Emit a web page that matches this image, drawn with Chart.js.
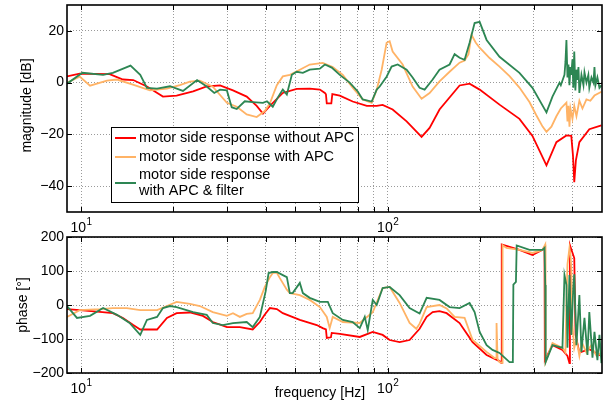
<!DOCTYPE html>
<html>
<head>
<meta charset="utf-8">
<script src="https://cdn.jsdelivr.net/npm/chart.js@4.4.0/dist/chart.umd.min.js"></script>
<style>
  html, body { margin: 0; padding: 0; background: #fff; }
  #wrap { position: relative; width: 606px; height: 403px; overflow: hidden; }
  canvas { position: absolute; left: 0; }
  #magCanvas { top: 0; }
  #phaseCanvas { top: 217px; }
</style>
</head>
<body>
<div id="wrap">
  <canvas id="magCanvas" width="606" height="237"></canvas>
  <canvas id="phaseCanvas" width="606" height="186"></canvas>
</div>
<script>
// frequency grid (Hz) and tick labels
const freqGrid = [10, 20, 30, 40, 50, 60, 70, 80, 90, 100, 200, 300, 400];
const freqLabels = [[10, '1'], [100, '2']];
const magTicks = [-40, -20, 0, 20];
const phaseTicks = [-200, -100, 0, 100, 200];

const seriesNames = ['motor side response without APC', 'motor side response with APC', 'motor side response|with APC & filter'];

// magnitude [dB], [frequency Hz, value]
const magRed = [[9.0, 2.4], [9.9, 3.5], [12.4, 3.3], [13.7, 1.2], [14.8, 1.0], [16.4, -1.5], [18.5, -5.4], [20.5, -5.0], [23.2, -3.4],
  [25.7, -1.5], [28.4, -1.1], [31.3, -3.0], [34.7, -5.4], [37.4, -9.0], [39.2, -12.0], [41.3, -9.0], [45.5, -4.0], [50.5, -2.4],
  [55.7, -2.3], [60.1, -2.7], [62.4, -4.0], [62.9, -4.5], [63.3, -8.0], [65.5, -8.0], [66.0, -4.4], [69.8, -5.0], [76.9, -7.3],
  [85.5, -9.0], [92.1, -9.0], [96.3, -8.6], [103.8, -10.4], [115.3, -15.0], [129, -21.0], [137, -17.5], [147.6, -10.4],
  [171.6, -1.1], [185, -0.4], [199.5, -2.7], [231.6, -8.5], [269, -14.0], [296.6, -20.6], [329.5, -32.0], [355, -23.0],
  [382.8, -20.4], [397, -20.6], [402, -28.0], [406, -38.5], [411, -30.0], [421.9, -23.0], [454.6, -18.0], [497.8, -16.5]];

const magOrange = [[9.0, 0], [9.9, 2.3], [10.7, -1.2], [12.15, 0.8], [13.1, 1.2], [14.76, -0.8], [16.78, -3], [19.06, -2.3], [21.0, -1],
  [22.65, 0.4], [24.4, 0.8], [26.9, -1.6], [29.9, -7.8], [32.2, -9.3], [34.7, -12.3], [37.4, -13.3], [39.75, -11], [41.3, -8],
  [43.5, -1], [45.5, 2.4], [48, 3], [51.7, 5], [55.7, 7], [61.4, 7.6], [66.2, 6], [71.4, 3], [76.9, -2], [82.9, -6.5], [88.7, -7.8],
  [92.1, -2.7], [95.6, 5], [99.2, 15.4], [101.5, 16], [103.8, 12], [111.9, 7], [120.6, -1.5], [129, -6.2], [137, -4], [147.6, 0.5],
  [159.2, 4.2], [171.6, 7.7], [178.2, 8.5], [183.5, 11], [187.7, 18.5], [193.6, 15.5], [199.5, 13.5], [215, 9.5], [231.6, 6.2],
  [249.7, 2.5], [269, -1.9], [290, -7.5], [305, -12.5], [320, -17], [329.5, -19], [342, -17], [355, -13], [367, -10], [382.8, -7.7],
  [385.8, -15], [388.7, -9], [391.6, -17], [394.5, -10], [400.5, -14], [406, -9], [412.7, -13], [421.9, -7], [431.7, -10],
  [444.9, -6.5], [458, -7], [472.5, -5], [497.8, -3.5]];

const magGreen = [[9.0, -0.4], [10.1, 3.8], [11.8, 3], [12.7, 3.8], [14.5, 6.6], [15.6, 3], [16.4, -2], [17.7, -2.3], [19.5, -1.4],
  [21.5, -3.2], [23.9, 1], [25.7, -1.5], [27.2, -4], [28.4, -2.7], [29.9, -3], [31.0, -9.5], [32.2, -10.2], [34.2, -7.2], [36.3, -7.5],
  [39.2, -7.8], [40.4, -7.2], [42.2, -9.3], [43.8, -5.8], [45.5, -2.7], [46.9, -4.6], [48.7, 3], [50.5, 4.2], [52.9, 3.8], [55.7, 5],
  [60.1, 5.4], [62.4, 7], [65.7, 5.8], [69.8, 3], [75.2, 0], [79.9, -3.4], [82.9, -6.5], [88.7, -7.3], [92.1, -2.7], [94.2, -1.5],
  [99.2, 2.3], [103, 6.2], [107.8, 7], [115.3, 5], [120.6, 2], [127.1, -2], [132, -2.7], [140.2, 1.2], [147.6, 5], [159.2, 7],
  [165.3, 11], [171.6, 9.6], [178.2, 8.8], [185, 15.4], [192.1, 23], [199.5, 23.5], [210.2, 16.5], [231.6, 10], [269, 3.8],
  [296.6, -2], [329.5, -11.5], [344.7, -5.4], [363.4, 0], [367, -1], [377.2, 3], [380, 8], [382.8, 16.5], [385.8, 2], [388.7, 7],
  [391.6, -1], [394.5, 6], [397, 3], [400.5, 9], [403, -2], [406, 12], [409.4, -3], [412.7, 5], [415.8, 1], [419, 6], [421.9, -4],
  [428.5, 3], [435, -1], [438.3, 4], [444.9, 0], [451.3, 3], [454.6, -2], [462, 2], [469, 0], [472.5, 6], [476, -1], [483, 2],
  [490.5, -2], [497.8, -1]];

// phase [deg], [frequency Hz, value]
const phaseRed = [[9.0, -12], [9.9, -15], [11.5, -20], [12.7, -24], [13.7, -38], [14.8, -59], [15.6, -72], [17.7, -72], [19.06, -38],
  [20.5, -24], [22.65, -22], [24.97, -32], [26.9, -50], [29.9, -65], [32.96, -65], [36.3, -72], [38.3, -50], [39.6, -30], [41.3, -9],
  [43.5, -12], [45.5, -24], [51.7, -44], [58.7, -59], [61.4, -68], [62.9, -72], [63.3, -97], [65.3, -95], [65.7, -82], [69.8, -85],
  [81.1, -94], [89.4, -79], [96.3, -88], [101.5, -103], [109.4, -109], [117.9, -103], [127.1, -70], [134, -35], [140.2, -21],
  [147.6, -18], [155.7, -24], [171.6, -53], [189.2, -109], [210.2, -147], [231.6, -165], [234.5, -170], [235.5, 178], [269, 162],
  [296.6, 147], [319.8, 162], [324.7, 171], [325.5, -162], [344.7, -118], [371.5, -132], [385.8, -150], [391.6, -171], [393, 176],
  [406, 138], [410, -88], [421.9, -140], [454.6, -130], [497.8, -150]];

const phaseOrange = [[9.0, -35], [9.9, -15], [11.5, -12], [12.7, -9], [14.1, -9], [15.6, -15], [17.7, -15], [19.06, -3], [20.5, 9],
  [22.65, 3], [24.4, -3], [26.9, -21], [29.9, -32], [31.3, -24], [32.96, -35], [34.7, -26], [36.3, -24], [38.3, 15], [39.75, 53],
  [41.3, 82], [42.2, 94], [43.5, 95], [44.5, 79], [46.9, 45], [48, 35], [51.7, 29], [55.7, 15], [60.1, -6], [63.3, -35], [64.7, -68],
  [66.2, -35], [71.4, -50], [81.1, -53], [89.4, -21], [96.3, 50], [101.5, 53], [109.4, 6], [117.9, -53], [124, -70], [127.1, -55],
  [134, -6], [147.6, 0], [155.7, -10], [165.3, -35], [178.2, -38], [189.2, -103], [210.2, -138], [223.1, -156], [226, -156],
  [226.5, -53], [228.2, -158], [231.6, -168], [236.5, -170], [237, 176], [244.1, 168], [269, 162], [296.6, 153], [319.8, 162],
  [326.5, 178], [327.2, -168], [344.7, -112], [371.5, -126], [380, -140], [382.8, 9], [385.8, 120], [391.6, 168], [394.5, 150],
  [397, 109], [400.5, -60], [406, -126], [412.7, -100], [421.9, -150], [430, -110], [444.9, -140], [460, -120], [480, -150],
  [497.8, -140]];

const phaseGreen = [[9.0, -3], [9.7, -38], [10.7, -32], [11.8, -9], [13.1, -29], [14.4, -53], [15.6, -88], [16.4, -44], [17.7, -35],
  [18.5, -9], [19.5, -3], [20.5, -6], [23.2, -21], [25.7, -29], [26.9, -53], [29.0, -59], [31.3, -53], [34.7, -50], [36.3, -65],
  [38.3, -35], [40.0, 40], [40.9, 94], [42.2, 97], [43.5, 97], [45.5, 88], [46.9, 82], [47.96, 35], [49, 35], [51.7, 65], [52.9, 35],
  [55.7, 21], [60.1, 9], [63.8, 9], [66.2, -24], [71.4, -44], [76.9, -50], [81.1, -68], [84.2, -35], [86.1, -74], [89.4, 15],
  [92.1, 0], [96.3, 50], [101.5, 53], [109.4, 29], [117.9, -9], [127.1, -25], [134, 21], [147.6, 15], [159.2, -6], [171.6, -9],
  [185, 6], [192.1, -21], [199.5, -79], [210.2, -118], [219.8, -132], [231.6, -141], [249.7, -168], [256, -168], [257, 60],
  [262, 68], [263.5, 175], [290.1, 162], [319.8, 162], [324.7, 168], [326.5, 59], [327.5, -168], [344.7, -118], [371.5, -126],
  [377.2, 88], [382.8, 59], [385.8, -126], [391.6, 88], [397, -88], [403, 50], [406, 90], [412.7, -118], [421.9, 29],
  [428.5, -138], [438.3, -38], [448.3, -147], [454.6, -21], [465.5, -155], [472.5, -79], [483.1, -162], [490.5, -88],
  [497.8, -171]];

const colors = ['#ff0000', '#ffb366', '#2d8653'];
const font = "'Liberation Sans', Arial, Helvetica, sans-serif";

function minusLabel(v) {
  return v < 0 ? '\u2212' + Math.abs(v) : String(v);
}

// frame, inner ticks, x labels, titles, legend
const decoPlugin = {
  id: 'deco',
  afterDatasetsDraw(chart, args, o) {
    const ctx = chart.ctx;
    const a = chart.chartArea;
    const sx = chart.scales.x, sy = chart.scales.y;
    ctx.save();
    ctx.strokeStyle = '#000';
    ctx.lineWidth = 1;
    ctx.beginPath();
    freqGrid.forEach(f => {
      const px = Math.round(sx.getPixelForValue(f)) + 0.5;
      ctx.moveTo(px, a.bottom); ctx.lineTo(px, a.bottom - 5);
      ctx.moveTo(px, a.top); ctx.lineTo(px, a.top + 5);
    });
    o.yTicks.forEach(v => {
      const py = Math.round(sy.getPixelForValue(v)) + 0.5;
      ctx.moveTo(a.left, py); ctx.lineTo(a.left + 5, py);
      ctx.moveTo(a.right, py); ctx.lineTo(a.right - 5, py);
    });
    ctx.stroke();
    ctx.lineWidth = 1.6;
    ctx.strokeRect(a.left, a.top, a.right - a.left, a.bottom - a.top);

    // x tick labels 10^n
    ctx.fillStyle = '#000';
    ctx.textBaseline = 'alphabetic';
    const base = a.bottom + 20;
    freqLabels.forEach(([f, e]) => {
      const px = sx.getPixelForValue(f);
      ctx.font = '14px ' + font;
      const w1 = ctx.measureText('10').width;
      ctx.font = '10px ' + font;
      const w2 = ctx.measureText(e).width;
      const x0 = px - (w1 + w2) / 2;
      ctx.font = '14px ' + font;
      ctx.textAlign = 'left';
      ctx.fillText('10', x0, base);
      ctx.font = '10px ' + font;
      ctx.fillText(e, x0 + w1 + 0.5, base - 7);
    });

    // y title
    ctx.font = '14px ' + font;
    ctx.textAlign = 'center';
    ctx.textBaseline = 'middle';
    ctx.save();
    ctx.translate(o.yTitleX, (a.top + a.bottom) / 2 - o.yTitleShift);
    ctx.rotate(-Math.PI / 2);
    ctx.fillText(o.yTitle, 0, 0);
    ctx.restore();

    if (o.xTitle) {
      ctx.textBaseline = 'alphabetic';
      ctx.fillText(o.xTitle, 320, a.bottom + 24);
    }

    if (o.legend) {
      const lx = 111, ly = 127, lw = 247, lh = 75;
      ctx.fillStyle = '#fff';
      ctx.fillRect(lx, ly, lw, lh);
      ctx.lineWidth = 1;
      ctx.strokeStyle = '#000';
      ctx.strokeRect(lx + 0.5, ly + 0.5, lw, lh);
      const rows = [[11, [11]], [30, [30]], [56, [48, 64]]];
      ctx.font = '14.5px ' + font;
      ctx.textAlign = 'left';
      ctx.textBaseline = 'middle';
      seriesNames.forEach((name, i) => {
        const [lineY, textYs] = rows[i];
        ctx.strokeStyle = colors[i];
        ctx.lineWidth = 2;
        ctx.beginPath();
        ctx.moveTo(lx + 4, ly + lineY);
        ctx.lineTo(lx + 25, ly + lineY);
        ctx.stroke();
        ctx.fillStyle = '#000';
        name.split('|').forEach((part, j) => ctx.fillText(part, lx + 28, ly + textYs[j]));
      });
    }
    ctx.restore();
  }
};

function makeChart(id, series, yMin, yMax, yTicks, padTop, xAxisH, deco) {
  const datasets = series.map((s, i) => ({
    data: s.map(p => ({ x: p[0], y: p[1] })),
    borderColor: colors[i],
    borderWidth: 1.8,
    pointRadius: 0,
    tension: 0,
    fill: false,
    order: 2 - i
  }));
  deco.yTicks = yTicks;
  return new Chart(document.getElementById(id), {
    type: 'line',
    data: { datasets: datasets },
    options: {
      responsive: false,
      animation: false,
      events: [],
      layout: { padding: { top: padTop, right: 4, left: 0, bottom: 0 } },
      plugins: { legend: { display: false }, tooltip: { enabled: false }, deco: deco },
      scales: {
        x: {
          type: 'logarithmic',
          min: 9,
          max: 500,
          afterBuildTicks: s => { s.ticks = freqGrid.map(v => ({ value: v })); },
          afterFit: s => { s.height = xAxisH; s.paddingLeft = 0; s.paddingRight = 0; },
          ticks: { display: false },
          grid: { color: '#9a9a9a', drawTicks: false, lineWidth: 1 },
          border: { display: false, dash: [1, 2] }
        },
        y: {
          min: yMin,
          max: yMax,
          afterBuildTicks: s => { s.ticks = yTicks.map(v => ({ value: v })); },
          afterFit: s => { s.width = 67; s.paddingTop = 0; s.paddingBottom = 0; },
          ticks: { color: '#000', padding: 3, font: { family: font, size: 14 }, callback: v => minusLabel(v) },
          grid: { color: '#9a9a9a', drawTicks: false, lineWidth: 1 },
          border: { display: false, dash: [1, 2] }
        }
      }
    },
    plugins: [decoPlugin]
  });
}

makeChart('magCanvas', [magRed, magOrange, magGreen], -50, 30, magTicks, 5, 25,
  { yTitle: 'magnitude [dB]', yTitleX: 27, yTitleShift: 3, legend: true });
makeChart('phaseCanvas', [phaseRed, phaseOrange, phaseGreen], -200, 200, phaseTicks, 20, 30,
  { yTitle: 'phase [°]', yTitleX: 23, yTitleShift: 0, xTitle: 'frequency [Hz]' });
</script>
</body>
</html>
